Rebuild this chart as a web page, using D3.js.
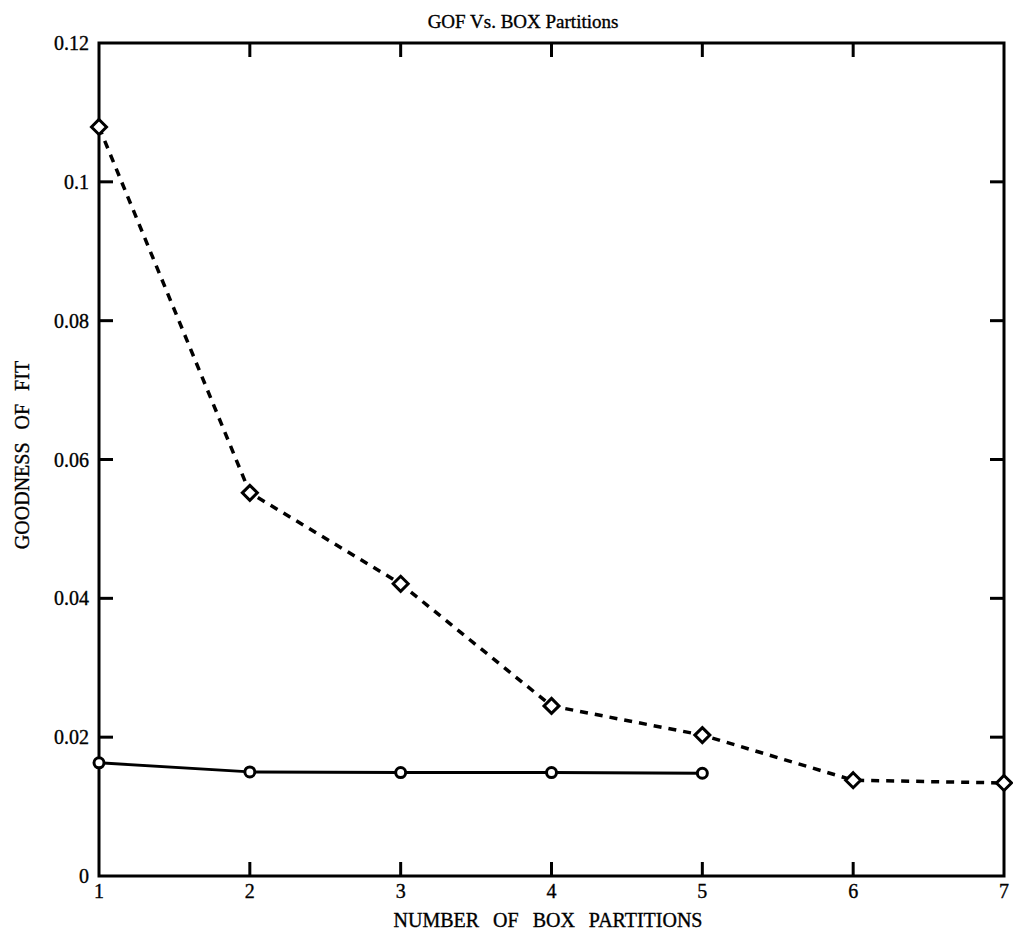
<!DOCTYPE html>
<html><head><meta charset="utf-8">
<script src="https://cdn.jsdelivr.net/npm/d3@7"></script>
<style>
body{margin:0;background:#fff;}
text{font-family:"Liberation Serif","Times New Roman",serif;fill:#000;stroke:#000;stroke-width:0.35px;}
</style></head>
<body><svg id="c" width="1013" height="941"></svg>
<script>
const partitions = [1,2,3,4,5,6,7];
const diamondSeries = [0.1079,0.0552,0.0421,0.0245,0.0203,0.0138,0.0134];
const circlePartitions = [1,2,3,4,5];
const circleSeries = [0.0163,0.0150,0.0149,0.0149,0.0148];
const xTicks = [1,2,3,4,5,6,7];
const yTicks = [0,0.02,0.04,0.06,0.08,0.1,0.12];
const yTickLabels = ["0","0.02","0.04","0.06","0.08","0.1","0.12"];

const svg = d3.select("#c");
const L=99, R=1004, T=43, B=876;
const x = d3.scaleLinear().domain([1,7]).range([L,R]);
const y = d3.scaleLinear().domain([0,0.12]).range([B,T]);

svg.append("rect").attr("x",L).attr("y",T).attr("width",R-L).attr("height",B-T)
  .attr("fill","none").attr("stroke","#000").attr("stroke-width",3);

const tl = 14;
const g = svg.append("g").attr("stroke","#000").attr("stroke-width",3);
xTicks.slice(1,-1).forEach(v=>{
  g.append("line").attr("x1",x(v)).attr("x2",x(v)).attr("y1",B).attr("y2",B-tl);
  g.append("line").attr("x1",x(v)).attr("x2",x(v)).attr("y1",T).attr("y2",T+tl);
});
yTicks.slice(1,-1).forEach(v=>{
  g.append("line").attr("x1",L).attr("x2",L+tl).attr("y1",y(v)).attr("y2",y(v));
  g.append("line").attr("x1",R).attr("x2",R-tl).attr("y1",y(v)).attr("y2",y(v));
});

svg.append("g").selectAll("text").data(xTicks).join("text")
  .attr("x",d=>x(d)).attr("y",898).attr("text-anchor","middle")
  .attr("font-size",20).text(d=>d);
svg.append("g").selectAll("text").data(yTicks).join("text")
  .attr("x",89).attr("y",d=>y(d)+7).attr("text-anchor","end")
  .attr("font-size",20).text((d,i)=>yTickLabels[i]);

svg.append("text").attr("x",523).attr("y",28).attr("text-anchor","middle")
  .attr("font-size",19).text("GOF Vs. BOX Partitions");
svg.append("text").attr("x",548).attr("y",927).attr("text-anchor","middle")
  .attr("font-size",20).attr("word-spacing",9).text("NUMBER OF BOX PARTITIONS");
svg.append("text").attr("transform","translate(29,455) rotate(-90)").attr("text-anchor","middle")
  .attr("font-size",20).attr("word-spacing",8).text("GOODNESS OF FIT");

const line = d3.line().x(d=>x(d[0])).y(d=>y(d[1]));
const dData = partitions.map((p,i)=>[p,diamondSeries[i]]);
const cData = circlePartitions.map((p,i)=>[p,circleSeries[i]]);
svg.append("path").datum(dData).attr("d",line).attr("fill","none")
  .attr("stroke","#000").attr("stroke-width",3.5).attr("stroke-dasharray","8,7");
svg.append("path").datum(cData).attr("d",line).attr("fill","none")
  .attr("stroke","#000").attr("stroke-width",3);

const dm = 7.5;
svg.append("g").selectAll("path").data(dData).join("path")
  .attr("d",d=>{const cx=x(d[0]),cy=y(d[1]);return `M${cx},${cy-dm}L${cx+dm},${cy}L${cx},${cy+dm}L${cx-dm},${cy}Z`;})
  .attr("fill","#fff").attr("stroke","#000").attr("stroke-width",3);
svg.append("g").selectAll("circle").data(cData).join("circle")
  .attr("cx",d=>x(d[0])).attr("cy",d=>y(d[1])).attr("r",5)
  .attr("fill","#fff").attr("stroke","#000").attr("stroke-width",3);
</script></body></html>
